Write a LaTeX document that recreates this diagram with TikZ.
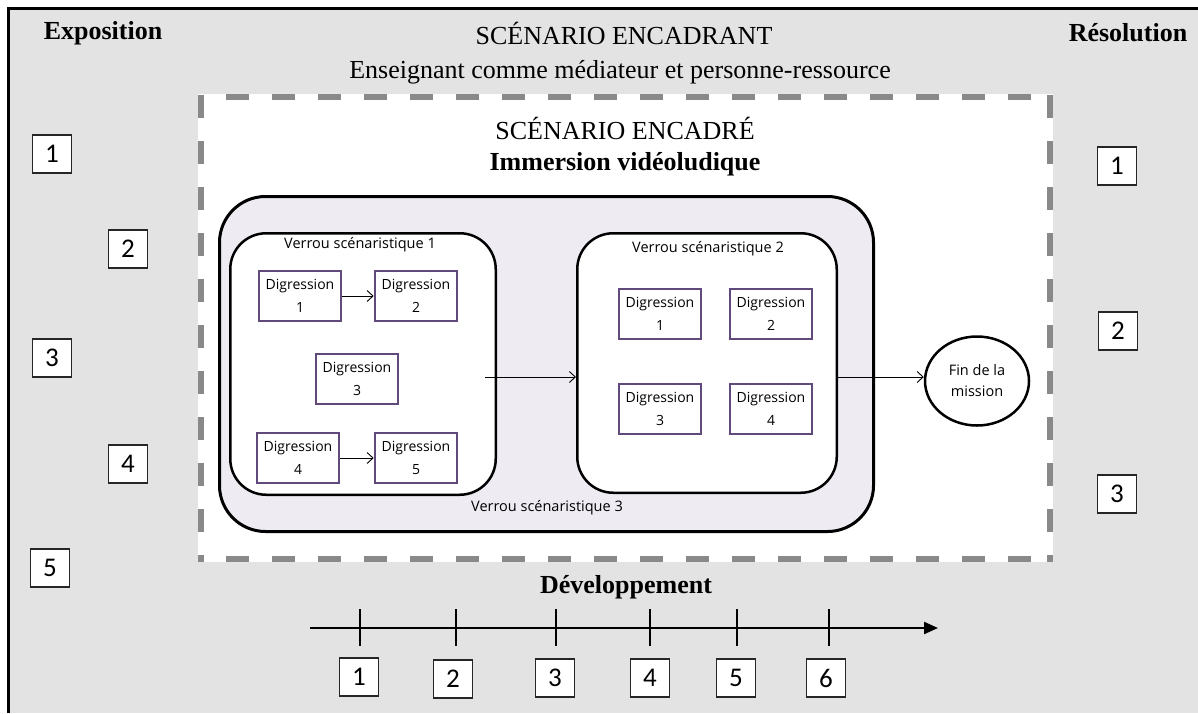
\documentclass[tikz,border=0pt]{standalone}
\usepackage{fontspec}
\setmainfont{Liberation Serif}
\newfontfamily\uifont{Open Sans}
\newfontfamily\calfont{Carlito}
\usetikzlibrary{arrows.meta,shapes.geometric}
\definecolor{bggray}{HTML}{E3E3E3}
\definecolor{dashgray}{HTML}{898989}
\definecolor{lav}{HTML}{EEEBF3}
\definecolor{purp}{HTML}{604A7B}
\begin{document}
\begin{tikzpicture}[x=1pt,y=-1pt,
  numbox/.style={draw=black!85, line width=1.2pt, fill=white, minimum width=39pt, minimum height=38pt, inner sep=0pt, font=\calfont\fontsize{27}{27}\selectfont},
  digbox/.style={draw=purp, line width=2.6pt, fill=white, minimum width=82pt, minimum height=50pt, inner sep=0pt, align=center, font=\uifont\fontsize{14}{22.5}\selectfont},
  vbox/.style={draw=black, line width=2.5pt, fill=white, rounded corners=36pt, inner sep=0pt},
  lbl/.style={font=\uifont\fontsize{14.5}{17}\selectfont, inner sep=0pt},
  ttl/.style={font=\fontsize{26}{30}\selectfont, inner sep=0pt},
  bttl/.style={font=\bfseries\fontsize{26}{30}\selectfont, inner sep=0pt},
  arr/.style={line width=0.9pt, -{Straight Barb[length=6pt,width=11pt,line width=0.9pt]}},
  dashline/.style={draw=dashgray, line width=6pt, dash pattern=on 23pt off 23pt},
  tick/.style={line width=2pt}
]
\useasboundingbox (0,0) rectangle (1198,713);
\fill[white] (0,0) rectangle (1198,713);
\fill[bggray] (8.7,8.7) rectangle (1198,713);
\draw[line width=2.6pt] (8.7,713) -- (8.7,8.7) -- (1198,8.7);

% headings
\node[bttl] (expo) at (103,33) {Exposition};
\node[ttl] (encadrant) at (624,33) {SCÉNARIO ENCADRANT};
\node[bttl] (reso) at (1128,33) {Résolution};
\node[ttl] (ens) at (620,72) {Enseignant comme médiateur et personne-ressource};

% white framed region
\fill[white] (198,94) rectangle (1053,562);
\draw[dashline] (201,95) -- (201,562);
\draw[dashline] (1050,95) -- (1050,562);
\draw[dashline] (226,97) -- (1053,97);
\draw[dashline] (226,559) -- (1053,559);

\node[ttl] (encadre) at (625,128) {SCÉNARIO ENCADRÉ};
\node[bttl] (immersion) at (625,164) {Immersion vidéoludique};

% Verrou 3
\node[draw=black, line width=3pt, fill=lav, rounded corners=46pt, minimum width=654pt, minimum height=335pt, inner sep=0pt] (v3) at (546.5,364) {};
\node[lbl] (v3t) at (547,508) {Verrou scénaristique 3};

% Verrou 1
\node[vbox, minimum width=265.5pt, minimum height=261.5pt] (v1) at (363,364) {};
\node[lbl] (v1t) at (360,245) {Verrou scénaristique 1};
\node[digbox] (a1) at (300,296) {Digression\\1};
\node[digbox] (a2) at (416,296) {Digression\\2};
\node[digbox] (a3) at (357,379) {Digression\\3};
\node[digbox] (a4) at (298,458) {Digression\\4};
\node[digbox] (a5) at (416,458) {Digression\\5};
\draw[arr] (a1.east) -- (a2.west);
\draw[arr] (a4.east) -- (a5.west);

% Verrou 2
\node[vbox, minimum width=259.5pt, minimum height=259.5pt] (v2) at (707,363) {};
\node[lbl] (v2t) at (708,249) {Verrou scénaristique 2};
\node[digbox] (b1) at (660,314) {Digression\\1};
\node[digbox] (b2) at (771,314) {Digression\\2};
\node[digbox] (b3) at (660,409) {Digression\\3};
\node[digbox] (b4) at (771,409) {Digression\\4};

% Fin
\node[ellipse, draw=black, line width=2.5pt, fill=white, minimum width=104pt, minimum height=89pt, inner sep=0pt, align=center, font=\uifont\fontsize{14.5}{21}\selectfont] (fin) at (977,381) {Fin de la\\mission};

\draw[arr] ([xshift=-12pt,yshift=-13pt]v1.east) -- ([yshift=-14pt]v2.west);
\draw[arr] ([yshift=-14pt]v2.east) -- ([yshift=4pt]fin.west);

% side number boxes
\node[numbox] (l1) at (52,154) {1};
\node[numbox] (l2) at (128,249) {2};
\node[numbox] (l3) at (52,358) {3};
\node[numbox] (l4) at (128,464) {4};
\node[numbox] (l5) at (50,568) {5};
\node[numbox] (r1) at (1117,166) {1};
\node[numbox] (r2) at (1118,331) {2};
\node[numbox] (r3) at (1117,494) {3};

% Développement
\node[bttl] (dev) at (626,587) {Développement};
\coordinate (ax0) at (310,628);
\coordinate (ax1) at (938,628);
\draw[line width=2.2pt, -{Triangle[length=14pt,width=12pt]}] (ax0) -- (ax1);
\foreach \x in {360,456,556,650,737,829} \draw[tick] (\x,609) -- (\x,646);
\node[numbox] (t1) at (359,677) {1};
\node[numbox] (t2) at (453,679) {2};
\node[numbox] (t3) at (555,678) {3};
\node[numbox] (t4) at (650,678) {4};
\node[numbox] (t5) at (736,678) {5};
\node[numbox] (t6) at (826,678) {6};
\end{tikzpicture}
\end{document}
